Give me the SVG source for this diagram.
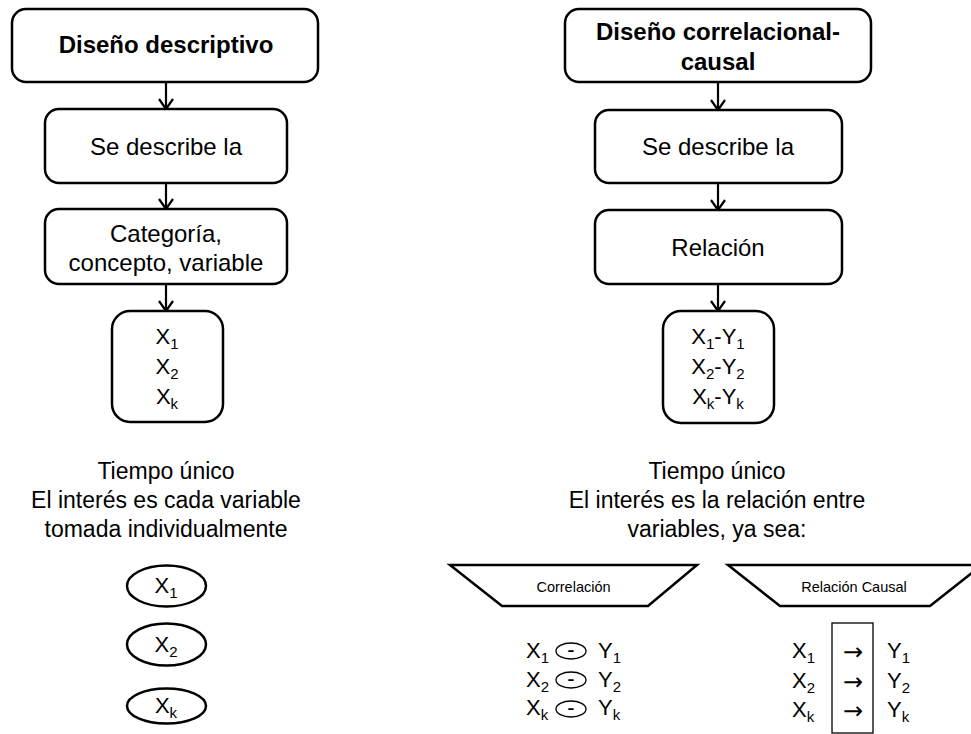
<svg xmlns="http://www.w3.org/2000/svg" width="971" height="734" viewBox="0 0 971 734">
<style>
  .box { fill: #fff; stroke: #000; stroke-width: 2.5; }
  .ell { fill: #fff; stroke: #000; stroke-width: 2.5; }
  .thin { fill: none; stroke: #000; stroke-width: 1.3; }
  .trap { fill: #fff; stroke: #000; stroke-width: 2.5; stroke-linejoin: miter; }
  .conn { fill: none; stroke: #000; stroke-width: 2.2; }
  text { font-family: "Liberation Sans", Arial, sans-serif; fill: #000; }
  .t24 { font-size: 24px; text-anchor: middle; }
  .b24 { font-size: 24px; font-weight: bold; text-anchor: middle; }
  .t23 { font-size: 23px; text-anchor: middle; }
  .x21 { font-size: 22px; }
  .mid { text-anchor: middle; }
  .sub { font-size: 15px; }
  .small { font-size: 14.5px; text-anchor: middle; }
  .arrow { font-family: "DejaVu Sans", sans-serif; font-size: 24px; text-anchor: middle; }
</style>
<defs>
  <marker id="arr" markerUnits="userSpaceOnUse" viewBox="-12 -9 14 18" refX="0" refY="0" markerWidth="14" markerHeight="18" orient="auto">
    <path d="M-10,-7 L0,0 L-10,7" fill="none" stroke="#000" stroke-width="2.2"/>
  </marker>
</defs>
<rect width="971" height="734" fill="#fff"/>

<g id="connectors">
  <line class="conn" x1="166" y1="82" x2="166" y2="109" marker-end="url(#arr)"/>
  <line class="conn" x1="166" y1="183" x2="166" y2="209" marker-end="url(#arr)"/>
  <line class="conn" x1="166" y1="284" x2="166" y2="311" marker-end="url(#arr)"/>
  <line class="conn" x1="718" y1="82" x2="718" y2="110" marker-end="url(#arr)"/>
  <line class="conn" x1="718" y1="183" x2="718" y2="210" marker-end="url(#arr)"/>
  <line class="conn" x1="718" y1="284" x2="718" y2="311" marker-end="url(#arr)"/>
</g>

<g id="left-design">
  <rect class="box" x="12" y="9" width="306" height="73" rx="14"/>
  <text class="b24" x="166" y="53">Diseño descriptivo</text>
</g>
<g id="left-describe">
  <rect class="box" x="45" y="109" width="242" height="74" rx="14"/>
  <text class="t24" x="166" y="155">Se describe la</text>
</g>
<g id="left-category">
  <rect class="box" x="45" y="209" width="242" height="75" rx="14"/>
  <text class="t24" x="166" y="242">Categoría,</text>
  <text class="t24" x="166" y="271">concepto, variable</text>
</g>
<g id="left-xbox">
  <rect class="box" x="112" y="311" width="111" height="111" rx="18"/>
  <text class="x21 mid" x="167" y="344">X<tspan class="sub" dy="5">1</tspan></text>
  <text class="x21 mid" x="167" y="374">X<tspan class="sub" dy="5">2</tspan></text>
  <text class="x21 mid" x="167" y="404">X<tspan class="sub" dy="5">k</tspan></text>
</g>
<g id="left-note">
  <text class="t23" x="166" y="479">Tiempo único</text>
  <text class="t23" x="166" y="508">El interés es cada variable</text>
  <text class="t23" x="166" y="537">tomada individualmente</text>
</g>
<g id="left-ellipses">
  <ellipse class="ell" cx="166.5" cy="586" rx="39.5" ry="20.5"/>
  <text class="x21 mid" x="166" y="593">X<tspan class="sub" dy="5">1</tspan></text>
  <ellipse class="ell" cx="166.5" cy="644.5" rx="39.5" ry="21"/>
  <text class="x21 mid" x="166" y="652">X<tspan class="sub" dy="5">2</tspan></text>
  <ellipse class="ell" cx="166.5" cy="706" rx="39.5" ry="17.5"/>
  <text class="x21 mid" x="166" y="713">X<tspan class="sub" dy="5">k</tspan></text>
</g>

<g id="right-design">
  <rect class="box" x="565" y="9" width="306" height="73" rx="14"/>
  <text class="b24" x="718" y="40">Diseño correlacional-</text>
  <text class="b24" x="718" y="70">causal</text>
</g>
<g id="right-describe">
  <rect class="box" x="595" y="110" width="247" height="73" rx="14"/>
  <text class="t24" x="718" y="155">Se describe la</text>
</g>
<g id="right-relation">
  <rect class="box" x="595" y="210" width="247" height="74" rx="14"/>
  <text class="t24" x="718" y="256">Relación</text>
</g>
<g id="right-xybox">
  <rect class="box" x="663" y="311" width="111" height="112" rx="18"/>
  <text class="x21 mid" x="718" y="344">X<tspan class="sub" dy="5">1</tspan><tspan dy="-5">-Y</tspan><tspan class="sub" dy="5">1</tspan></text>
  <text class="x21 mid" x="718" y="374">X<tspan class="sub" dy="5">2</tspan><tspan dy="-5">-Y</tspan><tspan class="sub" dy="5">2</tspan></text>
  <text class="x21 mid" x="718" y="404">X<tspan class="sub" dy="5">k</tspan><tspan dy="-5">-Y</tspan><tspan class="sub" dy="5">k</tspan></text>
</g>
<g id="right-note">
  <text class="t23" x="717" y="479">Tiempo único</text>
  <text class="t23" x="717" y="508">El interés es la relación entre</text>
  <text class="t23" x="717" y="537">variables, ya sea:</text>
</g>

<g id="correlacion">
  <polygon class="trap" points="450,565 697,565 648,606 502,606"/>
  <text class="small" x="573.5" y="592">Correlación</text>
  <text class="x21" x="526" y="658">X<tspan class="sub" dy="5">1</tspan></text>
  <ellipse class="thin" cx="571" cy="651" rx="15" ry="8"/>
  <text class="x21 mid" x="571" y="657">-</text>
  <text class="x21" x="598" y="658">Y<tspan class="sub" dy="5">1</tspan></text>
  <text class="x21" x="526" y="687">X<tspan class="sub" dy="5">2</tspan></text>
  <ellipse class="thin" cx="571" cy="680" rx="15" ry="8"/>
  <text class="x21 mid" x="571" y="686">-</text>
  <text class="x21" x="598" y="687">Y<tspan class="sub" dy="5">2</tspan></text>
  <text class="x21" x="526" y="715">X<tspan class="sub" dy="5">k</tspan></text>
  <ellipse class="thin" cx="571" cy="709" rx="15" ry="8"/>
  <text class="x21 mid" x="571" y="715">-</text>
  <text class="x21" x="598" y="715">Y<tspan class="sub" dy="5">k</tspan></text>
</g>

<g id="relacion-causal">
  <polygon class="trap" points="728,565 982,565 930,606 780,606"/>
  <text class="small" x="854" y="592">Relación Causal</text>
  <rect class="thin" x="832" y="623" width="41" height="110"/>
  <text class="x21" x="792" y="658">X<tspan class="sub" dy="5">1</tspan></text>
  <text class="arrow" x="853" y="660">→</text>
  <text class="x21" x="887" y="658">Y<tspan class="sub" dy="5">1</tspan></text>
  <text class="x21" x="792" y="688">X<tspan class="sub" dy="5">2</tspan></text>
  <text class="arrow" x="853" y="690">→</text>
  <text class="x21" x="887" y="688">Y<tspan class="sub" dy="5">2</tspan></text>
  <text class="x21" x="792" y="717">X<tspan class="sub" dy="5">k</tspan></text>
  <text class="arrow" x="853" y="719">→</text>
  <text class="x21" x="887" y="717">Y<tspan class="sub" dy="5">k</tspan></text>
</g>
</svg>
